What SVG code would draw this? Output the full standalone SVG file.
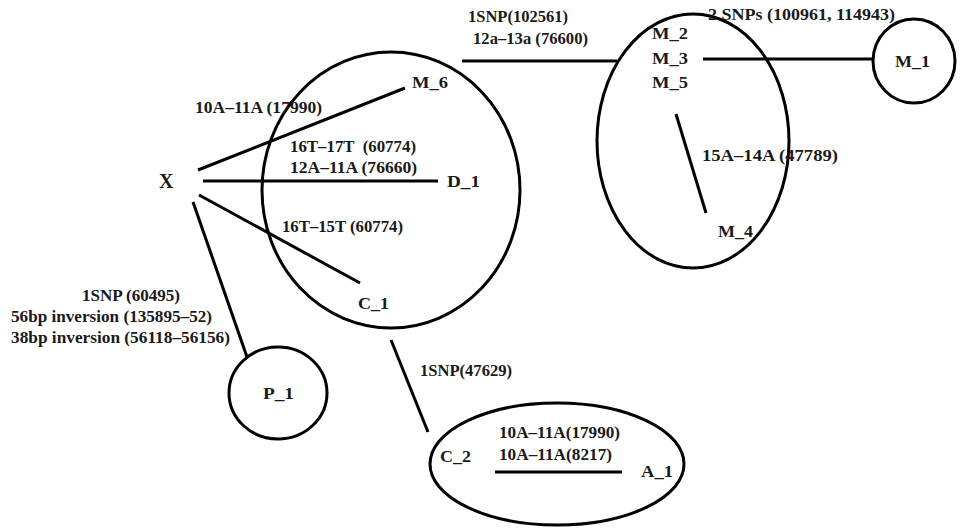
<svg xmlns="http://www.w3.org/2000/svg" width="960" height="530" viewBox="0 0 960 530">
<style>
.s{fill:none;stroke:#000;stroke-width:3}
.c{stroke:#000;stroke-width:3;fill:none}
text{font-family:"Liberation Serif","DejaVu Serif",serif;font-weight:bold;font-size:16px;fill:#1a1a1a}
.n{font-size:17px}
.big{font-size:20px}
</style>
<rect width="960" height="530" fill="#fff"/>
<g id="group-C1">
<ellipse class="s" cx="391" cy="190" rx="129" ry="138"/>
</g>
<g id="group-M">
<ellipse class="s" cx="693" cy="141" rx="96" ry="127"/>
</g>
<g id="node-M_1">
<ellipse class="s" cx="914" cy="61" rx="41" ry="42"/>
<text class="n" x="895" y="67" textLength="35" lengthAdjust="spacingAndGlyphs">M_1</text>
</g>
<g id="node-P_1">
<ellipse class="s" cx="278" cy="393" rx="49" ry="46"/>
<text class="n" x="263" y="399" textLength="31" lengthAdjust="spacingAndGlyphs">P_1</text>
</g>
<g id="group-A1">
<ellipse class="s" cx="557" cy="464" rx="127" ry="61"/>
</g>
<g id="connectors">
<line class="c" x1="198" y1="170" x2="405" y2="88"/>
<line class="c" x1="203" y1="181" x2="438" y2="181"/>
<line class="c" x1="199" y1="195" x2="360" y2="283"/>
<line class="c" x1="193" y1="202" x2="247" y2="357"/>
<line class="c" x1="391" y1="340" x2="428" y2="432"/>
<line class="c" x1="495" y1="472" x2="622" y2="472"/>
<line class="c" x1="462" y1="61" x2="617" y2="61"/>
<line class="c" x1="703" y1="59" x2="873" y2="59"/>
<line class="c" x1="676" y1="114" x2="706" y2="213"/>
</g>
<g id="node-X"><text class="big" x="159" y="188">X</text></g>
<g id="node-M_6"><text class="n" x="412" y="88" textLength="36" lengthAdjust="spacingAndGlyphs">M_6</text></g>
<g id="node-D_1"><text class="n" x="447" y="187" textLength="33" lengthAdjust="spacingAndGlyphs">D_1</text></g>
<g id="node-C_1"><text class="n" x="358" y="309" textLength="31" lengthAdjust="spacingAndGlyphs">C_1</text></g>
<g id="node-C_2"><text class="n" x="440" y="462" textLength="31" lengthAdjust="spacingAndGlyphs">C_2</text></g>
<g id="node-A_1"><text class="n" x="641" y="477" textLength="32" lengthAdjust="spacingAndGlyphs">A_1</text></g>
<g id="node-M_2"><text class="n" x="652" y="39" textLength="36" lengthAdjust="spacingAndGlyphs">M_2</text></g>
<g id="node-M_3"><text class="n" x="652" y="64" textLength="36" lengthAdjust="spacingAndGlyphs">M_3</text></g>
<g id="node-M_5"><text class="n" x="652" y="88" textLength="36" lengthAdjust="spacingAndGlyphs">M_5</text></g>
<g id="node-M_4"><text class="n" x="718" y="237" textLength="35" lengthAdjust="spacingAndGlyphs">M_4</text></g>
<g id="labels">
<text x="195" y="113" textLength="127" lengthAdjust="spacingAndGlyphs">10A–11A (17990)</text>
<text x="290" y="152" textLength="126" lengthAdjust="spacingAndGlyphs" xml:space="preserve">16T–17T  (60774)</text>
<text x="290" y="173" textLength="127" lengthAdjust="spacingAndGlyphs">12A–11A (76660)</text>
<text x="282" y="232" textLength="121" lengthAdjust="spacingAndGlyphs">16T–15T (60774)</text>
<text x="82" y="301" textLength="98" lengthAdjust="spacingAndGlyphs">1SNP (60495)</text>
<text x="11" y="322" textLength="201" lengthAdjust="spacingAndGlyphs">56bp inversion (135895–52)</text>
<text x="11" y="343" textLength="219" lengthAdjust="spacingAndGlyphs">38bp inversion (56118–56156)</text>
<text x="420" y="376" textLength="92" lengthAdjust="spacingAndGlyphs">1SNP(47629)</text>
<text x="499" y="438" textLength="121" lengthAdjust="spacingAndGlyphs">10A–11A(17990)</text>
<text x="499" y="460" textLength="113" lengthAdjust="spacingAndGlyphs">10A–11A(8217)</text>
<text x="468" y="22" textLength="100" lengthAdjust="spacingAndGlyphs">1SNP(102561)</text>
<text x="473" y="44" textLength="115" lengthAdjust="spacingAndGlyphs">12a–13a (76600)</text>
<text x="708" y="20" textLength="187" lengthAdjust="spacingAndGlyphs">2 SNPs (100961, 114943)</text>
<text x="702" y="161" textLength="136" lengthAdjust="spacingAndGlyphs">15A–14A (47789)</text>
</g>
</svg>
